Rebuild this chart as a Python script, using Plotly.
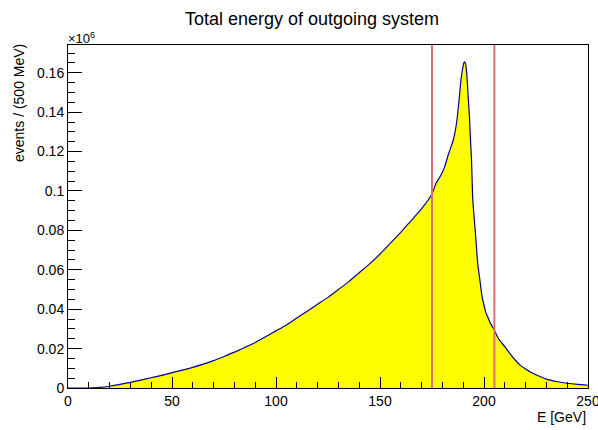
import plotly.graph_objects as go

# Energy of the outgoing system, read in GeV, and the event counts per 500 MeV bin (in units of 10^6)
energy_gev = [
    0, 10, 12, 15, 20, 25, 30, 35, 40, 45, 50, 55, 60, 65, 70, 75, 80, 85, 90, 95,
    100, 105, 110, 115, 120, 125, 130, 135, 140, 145, 150, 155, 160, 165, 170, 175,
    177, 179, 181, 183, 185, 186, 187, 188, 189, 190, 190.5, 191, 191.5, 192, 192.5,
    193, 193.5, 194, 194.5, 195, 196, 197, 198, 199, 200, 201, 202, 203, 204.5,
    205.3, 207, 210, 212.5, 215, 217.5, 220, 222.5, 225, 230, 235, 240, 245, 250,
]
events_millions = [
    0, 0, 0.0001, 0.0003, 0.0009, 0.0018, 0.0029, 0.0040, 0.0052, 0.0064, 0.0078,
    0.0091, 0.0105, 0.0121, 0.0139, 0.0160, 0.0182, 0.0206, 0.0231, 0.0260,
    0.0290, 0.0320, 0.0355, 0.0390, 0.0425, 0.0460, 0.0500, 0.0540, 0.0585, 0.0630,
    0.0680, 0.0735, 0.0790, 0.0850, 0.0910, 0.0985,
    0.1040, 0.1075, 0.1120, 0.1190, 0.1250, 0.1295, 0.1360, 0.1460, 0.1570, 0.1635,
    0.1655, 0.1650, 0.1620, 0.1550, 0.1460, 0.1380, 0.1260, 0.1160, 0.0980, 0.0900,
    0.0770, 0.0630, 0.0550, 0.0470, 0.0420, 0.0380, 0.0356, 0.0330, 0.0303,
    0.0286, 0.0250, 0.0210, 0.0175, 0.0142, 0.0115, 0.0096, 0.0080, 0.0067, 0.0045,
    0.0033, 0.0024, 0.0018, 0.0014,
]

# Selection window edges (GeV)
cut_values = [175, 205]

# Axis tick values and labels
x_ticks = [0, 50, 100, 150, 200, 250]
y_ticks = [0, 0.02, 0.04, 0.06, 0.08, 0.1, 0.12, 0.14, 0.16]
y_tick_text = ["0", "0.02", "0.04", "0.06", "0.08", "0.1", "0.12", "0.14", "0.16"]

FONT = "Liberation Sans, Arial, Helvetica, sans-serif"

fig = go.Figure()
fig.add_trace(go.Scatter(
    x=energy_gev, y=events_millions, mode="lines",
    line=dict(color="#000099", width=1.2, shape="spline", smoothing=0.6),
    fill="tozeroy", fillcolor="#ffff00", showlegend=False,
))

for cut in cut_values:
    fig.add_shape(type="line", xref="x", yref="paper", x0=cut, x1=cut, y0=0, y1=1,
                  line=dict(color="#dd7070", width=2), layer="above")

fig.update_layout(
    width=598, height=430,
    margin=dict(l=68, r=10, t=45, b=42, autoexpand=False),
    paper_bgcolor="white", plot_bgcolor="white",
    font=dict(family=FONT, size=14, color="black"),
    title=dict(text="Total energy of outgoing system", x=312 / 598, xanchor="center",
               y=1 - 19 / 430, yanchor="middle", font=dict(size=18, family=FONT)),
    xaxis=dict(
        range=[0, 250], showgrid=False, zeroline=False, automargin=False,
        showline=True, mirror=True, linecolor="black", linewidth=1,
        ticks="inside", ticklen=11, tickcolor="black", tickwidth=1,
        tickvals=x_ticks, ticktext=[str(v) for v in x_ticks],
        tickfont=dict(size=14, family=FONT), ticklabeloverflow="allow",
        minor=dict(dtick=10, ticks="inside", ticklen=6, tickcolor="black"),
    ),
    yaxis=dict(
        range=[0, 0.1741], showgrid=False, zeroline=False, automargin=False,
        showline=True, mirror=True, linecolor="black", linewidth=1,
        ticks="inside", ticklen=14, tickcolor="black", tickwidth=1,
        tickvals=y_ticks, ticktext=y_tick_text,
        tickfont=dict(size=14, family=FONT), ticklabeloverflow="allow",
        minor=dict(dtick=0.005, ticks="inside", ticklen=7, tickcolor="black"),
    ),
    annotations=[
        dict(text="×10<sup>6</sup>", xref="paper", yref="paper", x=0, y=1,
             xanchor="left", yanchor="bottom", showarrow=False, yshift=-3, xshift=-2,
             font=dict(size=13, family=FONT)),
        dict(text="events / (500 MeV)", xref="paper", yref="paper",
             x=(19 - 68) / 520, y=1, textangle=-90,
             xanchor="center", yanchor="top", showarrow=False, yshift=3,
             font=dict(size=14, family=FONT)),
        dict(text="E [GeV]", xref="paper", yref="paper", x=1, y=0,
             xanchor="right", yanchor="top", showarrow=False, yshift=-19,
             font=dict(size=14, family=FONT)),
    ],
)

fig.write_html("out.html")
